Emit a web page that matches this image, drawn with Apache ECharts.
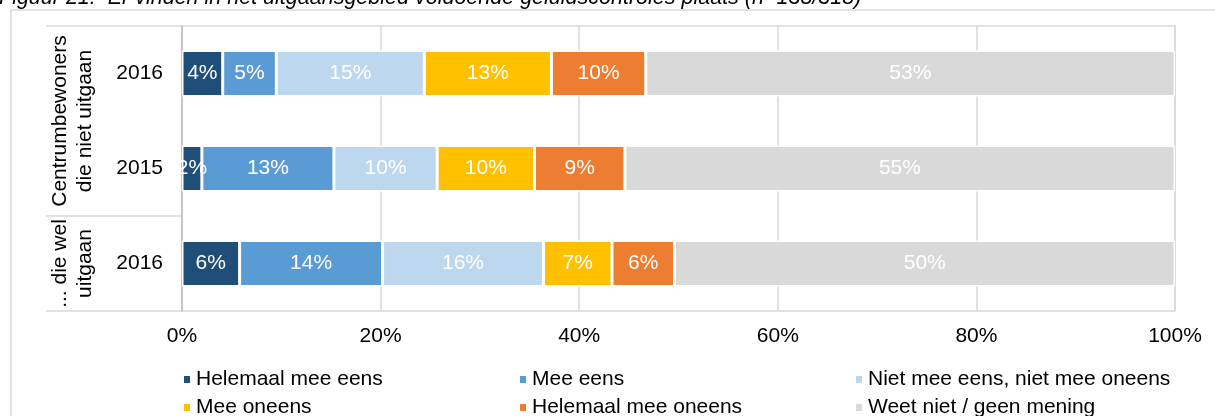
<!DOCTYPE html>
<html>
<head>
<meta charset="utf-8">
<script src="https://cdn.jsdelivr.net/npm/echarts@6/dist/echarts.min.js"></script>
<style>
    html, body {margin: 0; padding: 0; background: #fff;}
    #main {width: 1215px; height: 416px;}
</style>
</head>
<body>
<div id="main"></div>
<script>
var titleText = 'Figuur 21:  Er vinden in het uitgaansgebied voldoende geluidscontroles plaats (n=138/318)';
var categories = ['2016', '2015', '2016'];
var groupLabels = ['Centrumbewoners\ndie niet uitgaan', '... die wel\nuitgaan'];
var groupRanges = [[0, 1], [2, 2]];
var seriesNames = ['Helemaal mee eens', 'Mee eens', 'Niet mee eens, niet mee oneens',
    'Mee oneens', 'Helemaal mee oneens', 'Weet niet / geen mening'];
var colors = ['#1f4e79', '#5b9bd5', '#bdd7ee', '#ffc000', '#ed7d31', '#d9d9d9'];

var helemaalEens = [4.1, 2.0, 5.8];
var meeEens = [5.4, 13.3, 14.4];
var neutraal = [14.9, 10.4, 16.2];
var meeOneens = [12.8, 9.8, 6.9];
var helemaalOneens = [9.5, 9.1, 6.3];
var weetNiet = [53.3, 55.4, 50.4];
var seriesValues = [helemaalEens, meeEens, neutraal, meeOneens, helemaalOneens, weetNiet];

var xTicks = [0, 20, 40, 60, 80, 100];

var font = "'Liberation Sans', Arial, sans-serif";
var fs = 21;
var myChart = echarts.init(document.getElementById('main'));

var series = seriesNames.map(function (name, i) {
    return {
        name: name,
        type: 'bar',
        stack: 'totaal',
        barWidth: 46,
        data: seriesValues[i],
        itemStyle: {color: colors[i], borderColor: '#fff', borderWidth: 1.5},
        label: {
            show: true,
            position: 'inside',
            color: '#fff',
            fontSize: fs,
            fontFamily: font,
            formatter: function (p) { return Math.round(p.value) + '%'; }
        }
    };
});

var legendStyle = {
    orient: 'vertical',
    top: 369,
    height: 80,
    padding: 0,
    icon: 'rect',
    itemWidth: 8,
    itemHeight: 9,
    itemGap: 7,
    selectedMode: false,
    textStyle: {fontSize: fs, color: '#000', fontFamily: font}
};

var option = {
    animation: false,
    color: colors,
    grid: {
        left: 182, right: 40, top: 26, bottom: 105,
        show: true, borderColor: '#d9d9d9', borderWidth: 1.5,
        containLabel: false
    },
    xAxis: {
        type: 'value',
        min: xTicks[0],
        max: xTicks[xTicks.length - 1],
        interval: 20,
        axisLine: {show: false},
        axisTick: {show: false},
        splitLine: {lineStyle: {color: '#d9d9d9', width: 1.5}},
        axisLabel: {
            color: '#000', fontSize: fs, fontFamily: font, margin: 15,
            formatter: '{value}%'
        }
    },
    yAxis: {
        type: 'category',
        inverse: true,
        data: categories,
        axisLine: {lineStyle: {color: '#bfbfbf', width: 1.5}},
        axisTick: {show: false},
        axisLabel: {color: '#000', fontSize: fs, fontFamily: font, margin: 19}
    },
    legend: [
        Object.assign({left: 182, data: [seriesNames[0], seriesNames[3]]}, legendStyle),
        Object.assign({left: 518, data: [seriesNames[1], seriesNames[4]]}, legendStyle),
        Object.assign({left: 854, data: [seriesNames[2], seriesNames[5]]}, legendStyle)
    ],
    series: series
};
myChart.setOption(option);

// multi-level category labels and separators on the left
var gTop = 26, gBottom = 416 - 105;
var bandTop = function (idx) {
    var c0 = myChart.convertToPixel({yAxisIndex: 0}, 0);
    var c1 = myChart.convertToPixel({yAxisIndex: 0}, 1);
    var band = c1 - c0;
    return myChart.convertToPixel({yAxisIndex: 0}, idx) - band / 2;
};
var graphics = [
    {type: 'rect', shape: {x: 11, y: 10, width: 1220, height: 420},
        style: {fill: 'none', stroke: '#d9d9d9', lineWidth: 1.5}, silent: true},
    {type: 'text', x: -1, y: -2,
        style: {text: titleText, font: 'italic 21.5px ' + font, fill: '#000', verticalAlign: 'middle'}}
];
var bounds = [gTop, bandTop(2), gBottom];
bounds.forEach(function (y) {
    graphics.push({type: 'line', shape: {x1: 46, y1: y, x2: 182, y2: y},
        style: {stroke: '#d9d9d9', lineWidth: 1.5}, silent: true});
});
groupLabels.forEach(function (txt, i) {
    var r = groupRanges[i];
    var y = (myChart.convertToPixel({yAxisIndex: 0}, r[0]) + myChart.convertToPixel({yAxisIndex: 0}, r[1])) / 2;
    graphics.push({
        type: 'text', x: 73, y: y, rotation: Math.PI / 2,
        style: {text: txt, fontSize: fs, fontFamily: font, fill: '#000',
            align: 'center', verticalAlign: 'middle', lineHeight: 25}
    });
});
myChart.setOption({graphic: graphics});
</script>
</body>
</html>
